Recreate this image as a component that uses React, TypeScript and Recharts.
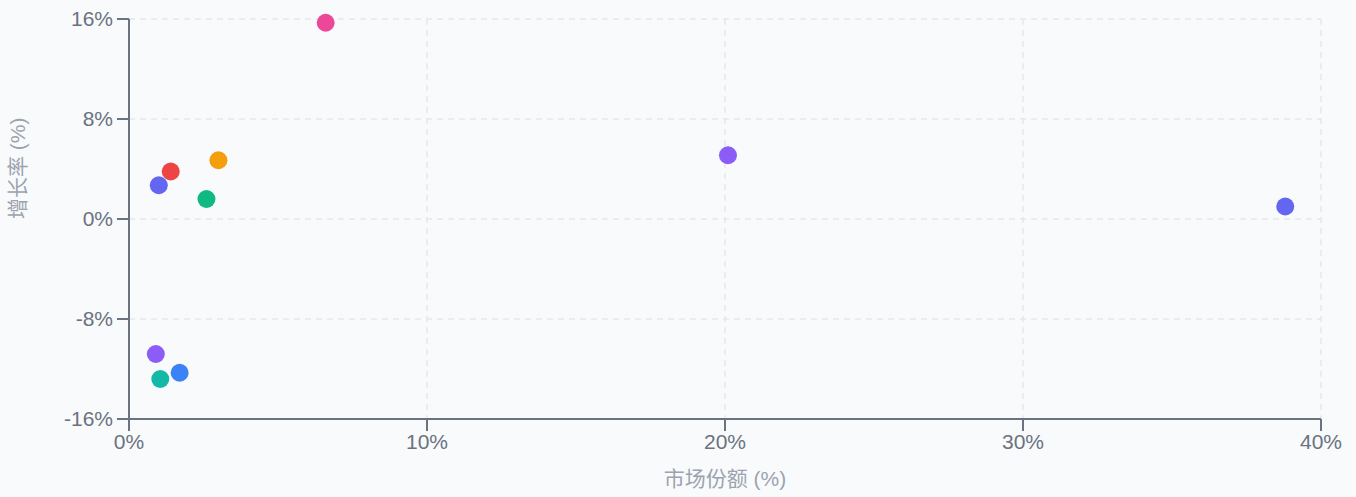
import React from 'react';
import {
  ScatterChart,
  Scatter,
  XAxis,
  YAxis,
  CartesianGrid,
  Cell,
} from 'recharts';

// market share (%) and growth rate (%) per brand
const SHARES = [6.6, 20.1, 38.8, 1.4, 3.0, 1.0, 2.6, 0.9, 1.05, 1.7];
const GROWTHS = [15.7, 5.1, 1.0, 3.8, 4.7, 2.7, 1.6, -10.8, -12.8, -12.3];
const COLORS = [
  '#ec4899', // pink
  '#8b5cf6', // violet
  '#6366f1', // indigo
  '#ef4444', // red
  '#f59e0b', // amber
  '#6366f1', // indigo
  '#10b981', // emerald
  '#8b5cf6', // violet
  '#14b8a6', // teal
  '#3b82f6', // blue
];
const X_TICKS = [0, 10, 20, 30, 40];
const Y_TICKS = [-16, -8, 0, 8, 16];

const FONT = '"Liberation Sans", Arial, "Noto Sans CJK SC", sans-serif';
const AXIS = '#6b7280';
const LABEL = '#9ca3af';

const data = SHARES.map((share, i) => ({ share, growth: GROWTHS[i] }));

const dot = (props: any) => (
  <circle cx={props.cx} cy={props.cy} r={9} fill={props.fill} />
);

export default function App() {
  return (
    <div style={{ width: 1356, height: 497, background: '#f8fafc', fontFamily: FONT }}>
      <style>{'body{margin:0;background:#f8fafc}'}</style>
      <ScatterChart
        width={1356}
        height={497}
        margin={{ top: 19, right: 35, bottom: 38, left: 9 }}
      >
        <CartesianGrid stroke="#e5e7eb" strokeDasharray="6 5" strokeWidth={1.5} />
        <XAxis
          type="number"
          dataKey="share"
          domain={[0, 40]}
          ticks={X_TICKS}
          height={40}
          tickSize={12}
          tickMargin={3}
          stroke={AXIS}
          strokeWidth={2}
          tick={{ fill: AXIS, fontSize: 21, fontFamily: FONT }}
          tickFormatter={(v: number) => `${v}%`}
          label={{
            value: '市场份额 (%)',
            position: 'bottom',
            offset: 12,
            fill: LABEL,
            fontSize: 21,
            fontFamily: FONT,
          }}
        />
        <YAxis
          type="number"
          dataKey="growth"
          domain={[-16, 16]}
          ticks={Y_TICKS}
          width={120}
          tickSize={12}
          tickMargin={4}
          stroke={AXIS}
          strokeWidth={2}
          tick={{ fill: AXIS, fontSize: 21, fontFamily: FONT }}
          tickFormatter={(v: number) => `${v}%`}
          label={{
            value: '增长率 (%)',
            angle: -90,
            position: 'insideLeft',
            offset: 9,
            fill: LABEL,
            fontSize: 21,
            fontFamily: FONT,
          }}
        />
        <Scatter data={data} shape={dot} isAnimationActive={false}>
          {data.map((_, i) => (
            <Cell key={i} fill={COLORS[i]} />
          ))}
        </Scatter>
      </ScatterChart>
    </div>
  );
}
